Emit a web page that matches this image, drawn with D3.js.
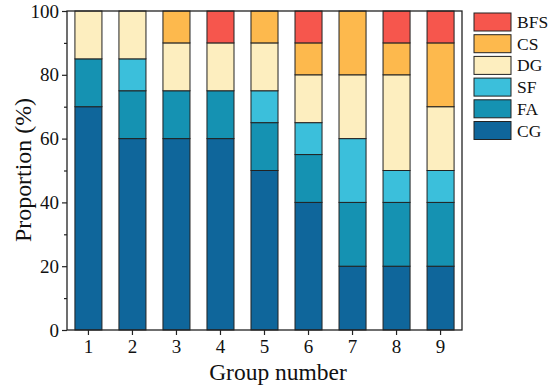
<!DOCTYPE html>
<html>
<head>
<meta charset="utf-8">
<script src="https://cdn.jsdelivr.net/npm/d3@7"></script>
<style>
body { margin: 0; background: #fff; }
text { font-family: "Liberation Serif", "Times New Roman", serif; fill: #111; }
</style>
</head>
<body>
<div class="chart"></div>
<script>
var groups = ["1", "2", "3", "4", "5", "6", "7", "8", "9"];
var seriesNames = ["CG", "FA", "SF", "DG", "CS", "BFS"];
var CG  = [70, 60, 60, 60, 50, 40, 20, 20, 20];
var FA  = [15, 15, 15, 15, 15, 15, 20, 20, 20];
var SF  = [0, 10, 0, 0, 10, 10, 20, 10, 10];
var DG  = [15, 15, 15, 15, 15, 15, 20, 30, 20];
var CS  = [0, 0, 10, 0, 10, 10, 20, 10, 20];
var BFS = [0, 0, 0, 10, 0, 10, 0, 10, 10];
var yTicks = [0, 20, 40, 60, 80, 100];

var colors = {
    CG: "#0f669b",
    FA: "#1592b2",
    SF: "#3bbfdb",
    DG: "#fdeebf",
    CS: "#fdb94d",
    BFS: "#f6564d"
};

var seriesVals = { CG: CG, FA: FA, SF: SF, DG: DG, CS: CS, BFS: BFS };
var rows = groups.map(function(g, i) {
    var r = { group: g };
    seriesNames.forEach(function(s) { r[s] = seriesVals[s][i]; });
    return r;
});

var svg = d3.select(".chart")
            .append("svg")
            .attr("width", 550)
            .attr("height", 391);

var mLeft = 67, mRight = 462, mTop = 11, mBottom = 330;

var x = d3.scaleBand()
          .domain(groups)
          .range([mLeft, mRight])
          .paddingInner(0.386)
          .paddingOuter(0.18);

var y = d3.scaleLinear()
          .domain([0, 100])
          .range([mBottom, mTop]);

var stacked = d3.stack().keys(seriesNames)(rows);

svg.append("g")
   .selectAll("g")
   .data(stacked)
 .enter()
   .append("g")
   .attr("fill", function(d) { return colors[d.key]; })
   .selectAll("rect")
   .data(function(d) { return d.filter(function(p) { return p[1] > p[0]; }); })
 .enter()
   .append("rect")
   .attr("x", function(d) { return x(d.data.group); })
   .attr("y", function(d) { return y(d[1]); })
   .attr("width", x.bandwidth())
   .attr("height", function(d) { return y(d[0]) - y(d[1]); })
   .attr("stroke", "#222")
   .attr("stroke-width", 1);

// frame
svg.append("rect")
   .attr("x", mLeft)
   .attr("y", mTop)
   .attr("width", mRight - mLeft)
   .attr("height", mBottom - mTop)
   .attr("fill", "none")
   .attr("stroke", "#222")
   .attr("stroke-width", 1.3);

// minor y ticks
svg.append("g")
   .attr("transform", "translate(" + mLeft + ",0)")
   .call(d3.axisLeft(y).tickValues([10, 30, 50, 70, 90]).tickSize(3).tickFormat(""))
   .call(function(g) { g.select(".domain").remove(); });

var yAxis = svg.append("g")
   .attr("transform", "translate(" + mLeft + ",0)")
   .call(d3.axisLeft(y).tickValues(yTicks).tickSize(5).tickPadding(3));
yAxis.select(".domain").remove();
yAxis.selectAll("text").style("font-size", "19px");

var xAxis = svg.append("g")
   .attr("transform", "translate(0," + mBottom + ")")
   .call(d3.axisBottom(x).tickSize(5).tickPadding(5));
xAxis.select(".domain").remove();
xAxis.selectAll("text").style("font-size", "19px");

svg.selectAll(".tick line").attr("stroke", "#222").attr("stroke-width", 1.2);

svg.append("text")
   .attr("x", 278)
   .attr("y", 380)
   .attr("text-anchor", "middle")
   .style("font-size", "23.5px")
   .text("Group number");

svg.append("text")
   .attr("transform", "translate(31,170) rotate(-90)")
   .attr("text-anchor", "middle")
   .attr("textLength", 144)
   .attr("lengthAdjust", "spacingAndGlyphs")
   .style("font-size", "23px")
   .text("Proportion (%)");

// legend, top entry is BFS
var legend = svg.append("g")
   .selectAll("g")
   .data(seriesNames.slice().reverse())
 .enter()
   .append("g")
   .attr("transform", function(d, i) { return "translate(474," + (13 + i * 21.7) + ")"; });

legend.append("rect")
   .attr("width", 37)
   .attr("height", 18)
   .attr("fill", function(d) { return colors[d]; })
   .attr("stroke", "#222")
   .attr("stroke-width", 1);

legend.append("text")
   .attr("x", 43)
   .attr("y", 15)
   .style("font-size", "17.5px")
   .text(function(d) { return d; });
</script>
</body>
</html>
